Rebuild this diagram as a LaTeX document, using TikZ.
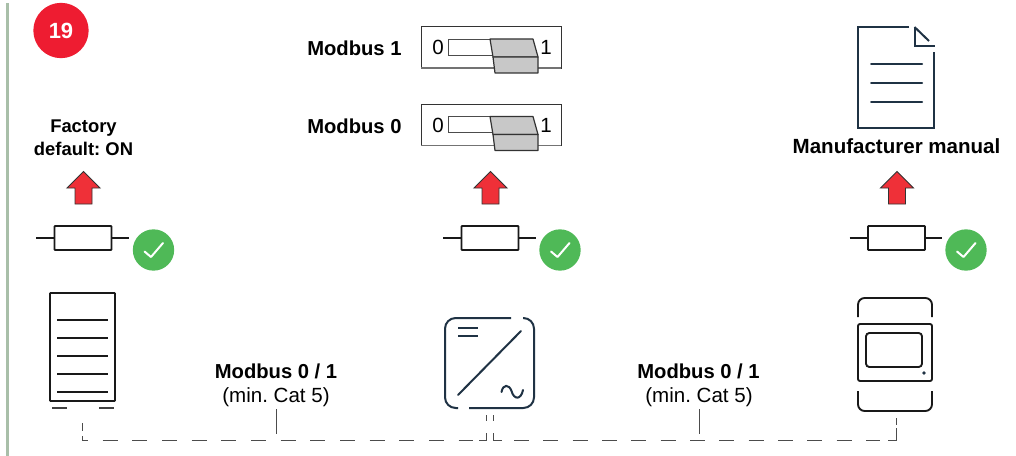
\documentclass[tikz,border=0pt]{standalone}
\usepackage{fontspec}
\setmainfont{Liberation Sans}
\frenchspacing
\definecolor{navy}{HTML}{1F3244}
\definecolor{redarrow}{HTML}{EF3038}
\definecolor{redbadge}{HTML}{EE1C31}
\definecolor{okgreen}{HTML}{4FB957}
\definecolor{sidebar}{HTML}{A9BFA9}
\definecolor{knob}{HTML}{C8C8C8}
\newcommand{\fa}{\fontsize{13.8}{16}\selectfont\bfseries}
\newcommand{\fb}{\fontsize{15.15}{18}\selectfont\bfseries}
\newcommand{\fd}{\fontsize{15.4}{18}\selectfont\bfseries}
\newcommand{\fc}{\fontsize{15.4}{18}\selectfont}
\tikzset{
  x=0.75pt,y=-0.75pt,
  lbl/.style={inner sep=0pt,align=center},
  resbox/.style={draw=black!90,line width=1.4pt,rounded corners=0.6pt,minimum width=42.75pt,minimum height=18pt,inner sep=0pt},
  lead/.style={draw=black!90,line width=1.2pt},
  okbadge/.style={circle,fill=okgreen,minimum size=31pt,inner sep=0pt},
  tick/.style={draw=white,line width=1.5pt,line cap=round,line join=round},
  uparrow/.style={draw=black!80,line width=0.7pt,fill=redarrow,line join=miter},
  ink/.style={draw=black!90,line width=1.4pt},
  navyline/.style={draw=navy,line width=1.5pt,line cap=round},
  wire/.style={draw=black!70,line width=0.65pt},
  dashwire/.style={wire,dash pattern=on 11.25pt off 11pt},
  swbox/.style={draw=black!80,line width=0.7pt,minimum width=105pt,minimum height=31pt,inner sep=0pt},
  knobface/.style={draw=black!80,line width=0.9pt,fill=knob,line join=round},
}
\begin{document}
\begin{tikzpicture}
\useasboundingbox (0,0) rectangle (1016,456);
\fill[white] (0,0) rectangle (1016,456);
\fill[sidebar] (6,3) rectangle (9,456);
% badge
\node[circle,fill=redbadge,minimum size=41.5pt,inner sep=0pt,text=white,font=\fontsize{16.5}{18}\selectfont\bfseries] (badge) at (61,30.5) {19};
% top labels
\node[lbl,font=\fa] (fac) at (83.5,137.5) {Factory\\[1.2pt]default: ON};
\node[lbl,font=\fb,anchor=west] (mb1) at (307,48) {Modbus 1};
\node[lbl,font=\fb,anchor=west] (mb0) at (307,126) {Modbus 0};
\node[lbl,font=\fd] (man) at (896.5,146) {Manufacturer manual};
% switches
\foreach \n/\dy in {a/0,b/77.5}{
  \begin{scope}[yshift=-0.75pt*\dy]
  \node[swbox] (sw\n) at (491,47.5) {};
  \draw[draw=black!55,line width=1pt] (421,68) -- (561,68);
  \node[lbl,font=\fc] (sw0\n) at (438,47.5) {0};
  \node[lbl,font=\fc] (sw1\n) at (546,47.5) {1};
  \draw[draw=black!70,line width=0.7pt] (492,39) -- (448.5,39) -- (448.5,55) -- (492,55);
  \draw[knobface] (490,39) -- (533,39) -- (538,57) -- (493,57) -- cycle;
  \draw[knobface] (493,57) -- (538,57) -- (538,73) -- (495,73) -- cycle;
  \end{scope}
}
% document
\node[inner sep=0pt,minimum width=56pt,minimum height=76pt] (doc) at (896,77.5) {};
\draw[navyline,line cap=butt] (909,27) -- (858,27) -- (858,128) -- (933.5,128) -- (933.5,52);
\draw[navyline,line cap=butt,line join=miter] (914.5,27) -- (914.5,46) -- (934.5,46);
\draw[navyline,line cap=butt] (914.5,27) -- (929,41);
\foreach \y in {64,83,102} \draw[navyline] (871,\y) -- (922,\y);
% arrows and resistors
\foreach \n/\x/\cx in {l/83.5/153.5,m/490.5/560,r/897/966}{
  \begin{scope}[xshift=0.75pt*\x]
  \draw[uparrow] (0,171.5) -- (16.5,188) -- (8.5,188) -- (8.5,204) -- (-8.5,204) -- (-8.5,188) -- (-16.5,188) -- cycle;
  \node[resbox] (res\n) at (-0.5,238) {};
  \coordinate (la\n) at (-47.5,238);
  \coordinate (lb\n) at (45,238);
  \draw[lead] (la\n) -- (res\n.west);
  \draw[lead] (res\n.east) -- (lb\n);
  \end{scope}
  \node[okbadge] (ok\n) at (\cx,250) {};
  \draw[tick] ([shift={(-9,1.5)}]ok\n.center) -- ([shift={(-2.5,7)}]ok\n.center) -- ([shift={(9.5,-7)}]ok\n.center);
}
% battery
\node[ink,minimum width=48.75pt,minimum height=81pt,inner sep=0pt,rounded corners=0.5pt] (bat) at (82.5,347) {};
\foreach \y in {320,338,356,374,392} \draw[ink] (57,\y) -- (108,\y);
\draw[draw=black!75,line width=1.1pt] (52,408) -- (67,408);
\draw[draw=black!75,line width=1.1pt] (99,408) -- (114,408);
% inverter
\node[inner sep=0pt,minimum width=66.75pt,minimum height=67.5pt] (inv) at (489.5,363) {};
\draw[navyline,rounded corners=8pt,line cap=butt] (511,318) -- (445,318) -- (445,408) -- (458,408);
\draw[navyline,rounded corners=8pt,line cap=butt] (469,408) -- (534,408) -- (534,318) -- (523,318);
\draw[navyline] (458,395) -- (521,331);
\draw[navyline,line cap=butt] (458,328) -- (478,328);
\draw[navyline,line cap=butt] (458,336) -- (478,336);
\draw[navyline] (501.5,392) .. controls (503,384) and (509,384) .. (511.5,391) .. controls (514,400) and (521,400) .. (523,390);
% meter
\node[ink,rounded corners=1.5pt,minimum width=55.5pt,minimum height=42.75pt,inner sep=0pt] (met) at (895,352.5) {};
\node[ink,rounded corners=2.5pt,minimum width=42pt,minimum height=25.5pt,inner sep=0pt] (disp) at (894,350) {};
\fill[navy] (924,373) circle[radius=1.8];
\draw[ink,rounded corners=5pt] (858,317) -- (858,298) -- (932,298) -- (932,317);
\draw[ink,rounded corners=5pt] (858,391) -- (858,411) -- (932,411) -- (932,391);
% bus labels
\node[lbl,font=\fb] (busl) at (276,371) {Modbus 0 / 1};
\node[lbl,font=\fc] (catl) at (276,397) {(min. Cat 5)};
\node[lbl,font=\fb] (busr) at (698.5,371) {Modbus 0 / 1};
\node[lbl,font=\fc] (catr) at (699,397) {(min. Cat 5)};
% wiring
\coordinate (batstub) at (82,423);
\coordinate (batstube) at (82,431);
\coordinate (batport) at (82,436);
\coordinate (lend) at (473,440);
\coordinate (lcorn) at (479,440);
\coordinate (lup) at (486,433);
\coordinate (invstubl) at (486,415);
\coordinate (invstuble) at (486,421);
\coordinate (invstubr) at (493,415);
\coordinate (invstubre) at (493,421);
\coordinate (rup) at (493,433);
\coordinate (rcorn) at (502,440);
\coordinate (rstart) at (514,440);
\coordinate (rend) at (880,440);
\coordinate (mcorn) at (888,440);
\coordinate (mup) at (896,428);
\coordinate (metstub) at (896,418);
\coordinate (metstube) at (896,425);
\coordinate (stemlt) at (276,409);
\coordinate (stemlb) at (276,434);
\coordinate (stemrt) at (699,409);
\coordinate (stemrb) at (699,434);
\draw[wire] (batstub) -- (batstube);
\draw[dashwire,dash phase=3.75pt] (batport) |- (lend);
\draw[wire] (lcorn) -| (lup);
\draw[wire] (invstubl) -- (invstuble);
\draw[wire] (invstubr) -- (invstubre);
\draw[wire] (rup) |- (rcorn);
\draw[wire,dash pattern=on 11.25pt off 10.75pt] (rstart) -- (rend);
\draw[wire] (mcorn) -| (mup);
\draw[wire] (metstub) -- (metstube);
\draw[wire] (stemlt) -- (stemlb);
\draw[wire] (stemrt) -- (stemrb);
\end{tikzpicture}
\end{document}
